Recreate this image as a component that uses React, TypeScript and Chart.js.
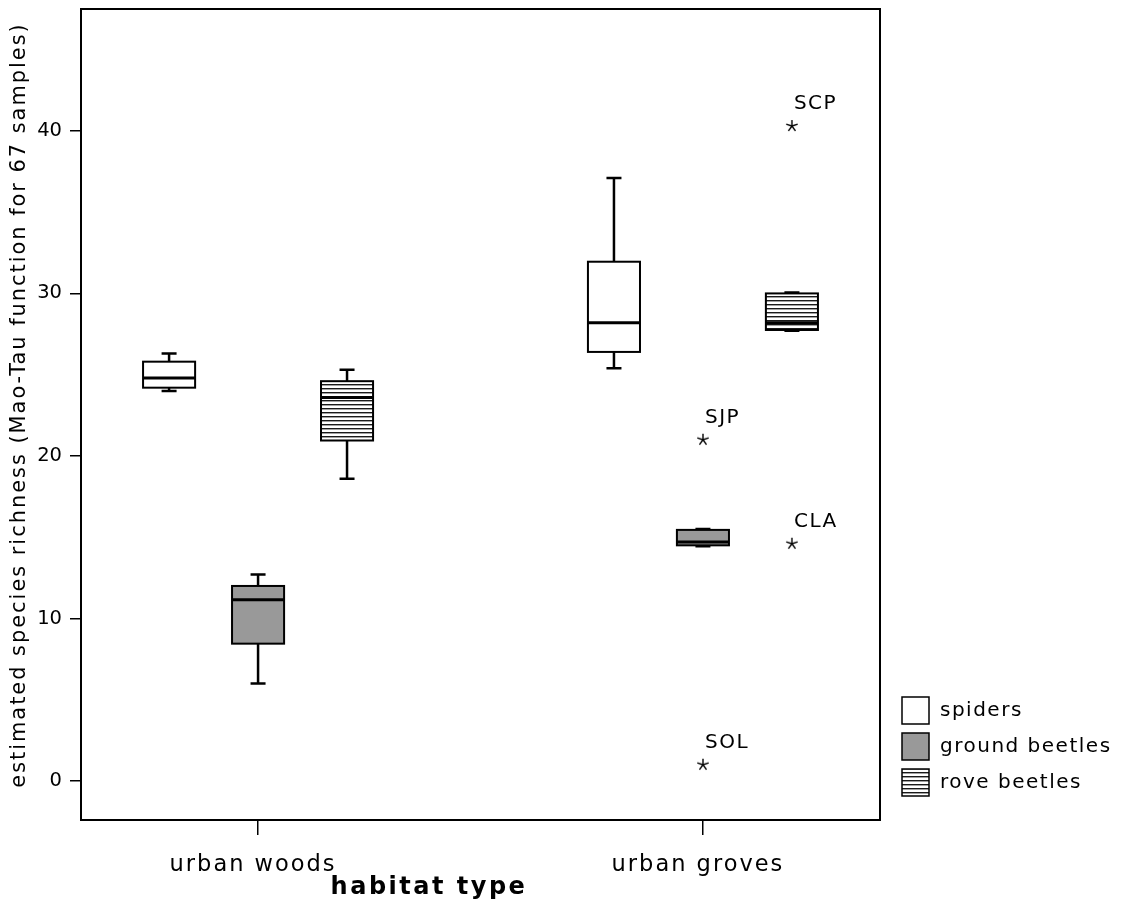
import React, { useEffect, useRef } from 'react';
import { Chart, registerables } from 'chart.js';

Chart.register(...registerables);

// ---------------- data ----------------
const categories = ['urban woods', 'urban groves'];
const seriesNames = ['spiders', 'ground beetles', 'rove beetles'];
// five-number summaries per category: [min, q1, median, q3, max]
const spidersStats = [
  [24.0, 24.2, 24.8, 25.8, 26.3],
  [25.4, 26.4, 28.2, 31.95, 37.1],
];
const groundBeetlesStats = [
  [6.0, 8.45, 11.15, 12.0, 12.7],
  [14.45, 14.5, 14.7, 15.45, 15.5],
];
const roveBeetlesStats = [
  [18.6, 20.95, 23.6, 24.6, 25.3],
  [27.7, 27.75, 28.2, 30.0, 30.05],
];
const outlierLabels = ['SCP', 'SJP', 'CLA', 'SOL'];
const outlierValues = [40.3, 21.0, 14.6, 1.0];
const outlierCategory = [1, 1, 1, 1];
const outlierSeries = [2, 1, 2, 1];
const yTickValues = [0, 10, 20, 30, 40];
const xTitle = 'habitat type';
const yTitle = 'estimated species richness (Mao-Tau function for 67 samples)';

// ---------------- layout constants ----------------
const W = 1111;
const H = 906;
const GROUP_OFFSET = 0.2;
const BOX_W = 0.117;
const FONT = "'DejaVu Sans', Verdana, sans-serif";

const allStats = [spidersStats, groundBeetlesStats, roveBeetlesStats];

function xPos(cat: number, series: number) {
  return cat + 1 + (series - 1) * GROUP_OFFSET;
}

function makeStar(): HTMLCanvasElement {
  const c = document.createElement('canvas');
  c.width = 14;
  c.height = 14;
  const g = c.getContext('2d')!;
  g.strokeStyle = '#000';
  g.lineWidth = 1.4;
  g.lineCap = 'butt';
  for (let k = 0; k < 5; k++) {
    const a = -Math.PI / 2 + (k * 2 * Math.PI) / 5;
    g.beginPath();
    g.moveTo(7, 7);
    g.lineTo(7 + 6 * Math.cos(a), 7 + 6 * Math.sin(a));
    g.stroke();
  }
  return c;
}

function makeStripes(ctx: CanvasRenderingContext2D): CanvasPattern | string {
  const c = document.createElement('canvas');
  c.width = 4;
  c.height = 4;
  const g = c.getContext('2d')!;
  g.fillStyle = '#fff';
  g.fillRect(0, 0, 4, 4);
  g.fillStyle = '#1a1a1a';
  g.fillRect(0, 0, 4, 1);
  g.fillStyle = '#a0a0a0';
  g.fillRect(0, 1, 4, 1);
  return ctx.createPattern(c, 'repeat') || '#888';
}

function zeroPadding(s: any) {
  s.paddingTop = 0;
  s.paddingBottom = 0;
  s.paddingLeft = 0;
  s.paddingRight = 0;
}

export default function App() {
  const ref = useRef<HTMLCanvasElement | null>(null);

  useEffect(() => {
    if (!ref.current) return;
    const star = makeStar();

    const fills = (ctx: CanvasRenderingContext2D) => ['#ffffff', '#999999', makeStripes(ctx)];

    const boxPlugin = {
      id: 'boxes',
      beforeDraw(chart: any) {
        const ctx: any = chart.ctx;
        ctx.letterSpacing = '2px';
        const ys: any = chart.scales.y;
        if (ys && !ys.__patched) {
          const orig = ys.drawLabels.bind(ys);
          ys.drawLabels = (area: any) => {
            const prev = ctx.letterSpacing;
            ctx.letterSpacing = '0px';
            orig(area);
            ctx.letterSpacing = prev;
          };
          ys.__patched = true;
        }
      },
      beforeDatasetsDraw(chart: any) {
        const ctx: CanvasRenderingContext2D = chart.ctx;
        const xs = chart.scales.x;
        const ys = chart.scales.y;
        const f = fills(ctx);
        ctx.save();
        allStats.forEach((stats, s) => {
          stats.forEach((st, c) => {
            const [mn, q1, md, q3, mx] = st;
            const pos = xPos(c, s);
            const cx = xs.getPixelForValue(pos);
            const l = xs.getPixelForValue(pos - BOX_W / 2);
            const r = xs.getPixelForValue(pos + BOX_W / 2);
            const yMin = ys.getPixelForValue(mn);
            const yQ1 = ys.getPixelForValue(q1);
            const yMd = ys.getPixelForValue(md);
            const yQ3 = ys.getPixelForValue(q3);
            const yMax = ys.getPixelForValue(mx);
            ctx.strokeStyle = '#000';
            // whiskers
            ctx.lineWidth = 2.5;
            ctx.beginPath();
            ctx.moveTo(cx, yMax);
            ctx.lineTo(cx, yQ3);
            ctx.moveTo(cx, yQ1);
            ctx.lineTo(cx, yMin);
            ctx.moveTo(cx - 7.5, yMax);
            ctx.lineTo(cx + 7.5, yMax);
            ctx.moveTo(cx - 7.5, yMin);
            ctx.lineTo(cx + 7.5, yMin);
            ctx.stroke();
            // box
            ctx.fillStyle = f[s] as any;
            ctx.fillRect(l, yQ3, r - l, yQ1 - yQ3);
            ctx.lineWidth = 2;
            ctx.strokeRect(l, yQ3, r - l, yQ1 - yQ3);
            // median
            ctx.lineWidth = 3;
            ctx.beginPath();
            ctx.moveTo(l, yMd);
            ctx.lineTo(r, yMd);
            ctx.stroke();
          });
        });
        ctx.restore();
      },
      afterDraw(chart: any) {
        const ctx: CanvasRenderingContext2D = chart.ctx;
        const a = chart.chartArea;
        ctx.save();
        // frame
        ctx.strokeStyle = '#000';
        ctx.lineWidth = 2;
        ctx.strokeRect(a.left, a.top, a.right - a.left, a.bottom - a.top);

        // outlier labels
        const meta = chart.getDatasetMeta(0);
        ctx.fillStyle = '#000';
        ctx.font = `20px ${FONT}`;
        (ctx as any).letterSpacing = '1.5px';
        ctx.textAlign = 'left';
        ctx.textBaseline = 'middle';
        meta.data.forEach((pt: any, i: number) => {
          ctx.fillText(outlierLabels[i], pt.x + 2, pt.y - 22);
        });

        // legend
        const f = fills(ctx);
        seriesNames.forEach((name, i) => {
          const bx = 894;
          const by = 689 + i * 36;
          ctx.fillStyle = f[i] as any;
          ctx.fillRect(bx, by, 27, 27);
          ctx.strokeStyle = '#000';
          ctx.lineWidth = 1.5;
          ctx.strokeRect(bx, by, 27, 27);
          ctx.fillStyle = '#000';
          ctx.fillText(name, bx + 38, by + 14);
        });

        // x title
        ctx.font = `bold 24px ${FONT}`;
        (ctx as any).letterSpacing = '2.5px';
        ctx.textAlign = 'center';
        ctx.fillText(xTitle, 421, 880);

        // y title
        ctx.font = `20.9px ${FONT}`;
        (ctx as any).letterSpacing = '2px';
        ctx.translate(12, 397);
        ctx.rotate(-Math.PI / 2);
        ctx.textAlign = 'center';
        ctx.textBaseline = 'middle';
        ctx.fillText(yTitle, 0, 0);
        ctx.restore();
      },
    };

    const chart = new Chart(ref.current, {
      type: 'scatter',
      data: {
        datasets: [
          {
            label: 'outliers',
            data: outlierValues.map((v, i) => ({ x: xPos(outlierCategory[i], outlierSeries[i]), y: v })),
            pointStyle: star as any,
            pointRadius: 7,
            borderColor: '#000',
            backgroundColor: '#000',
          },
        ],
      },
      options: {
        responsive: false,
        animation: false,
        layout: { autoPadding: false, padding: { top: 1, right: W - 872, bottom: 0, left: 0 } },
        plugins: {
          legend: { display: false },
          tooltip: { enabled: false },
        },
        scales: {
          x: {
            type: 'linear',
            min: 0.602,
            max: 2.398,
            afterBuildTicks: (s: any) => {
              s.ticks = categories.map((_, i) => ({ value: i + 1 }));
            },
            afterFit: (s: any) => {
              s.height = 94;
              zeroPadding(s);
            },
            ticks: {
              callback: (_v: any, i: number) => categories[i],
              color: '#000',
              font: { family: FONT, size: 22.5 },
              padding: 17,
              labelOffset: -5,
              autoSkip: false,
              maxRotation: 0,
            },
            grid: {
              drawOnChartArea: false,
              drawTicks: true,
              tickLength: 15,
              color: '#000',
              lineWidth: 1.5,
            },
            border: { display: false },
          },
          y: {
            type: 'linear',
            min: -2.4,
            max: 47.5,
            afterBuildTicks: (s: any) => {
              s.ticks = yTickValues.map((v) => ({ value: v }));
            },
            afterFit: (s: any) => {
              s.width = 73;
              zeroPadding(s);
            },
            ticks: {
              callback: (v: any) => String(v),
              color: '#000',
              font: { family: FONT, size: 19.5 },
              padding: 8,
            },
            grid: {
              drawOnChartArea: false,
              drawTicks: true,
              tickLength: 11,
              color: '#000',
              lineWidth: 1.5,
            },
            border: { display: false },
          },
        },
      },
      plugins: [boxPlugin],
    });

    return () => chart.destroy();
  }, []);

  return (
    <div style={{ width: W, height: H }}>
      <canvas ref={ref} width={W} height={H} style={{ display: 'block', width: W, height: H }} />
    </div>
  );
}
